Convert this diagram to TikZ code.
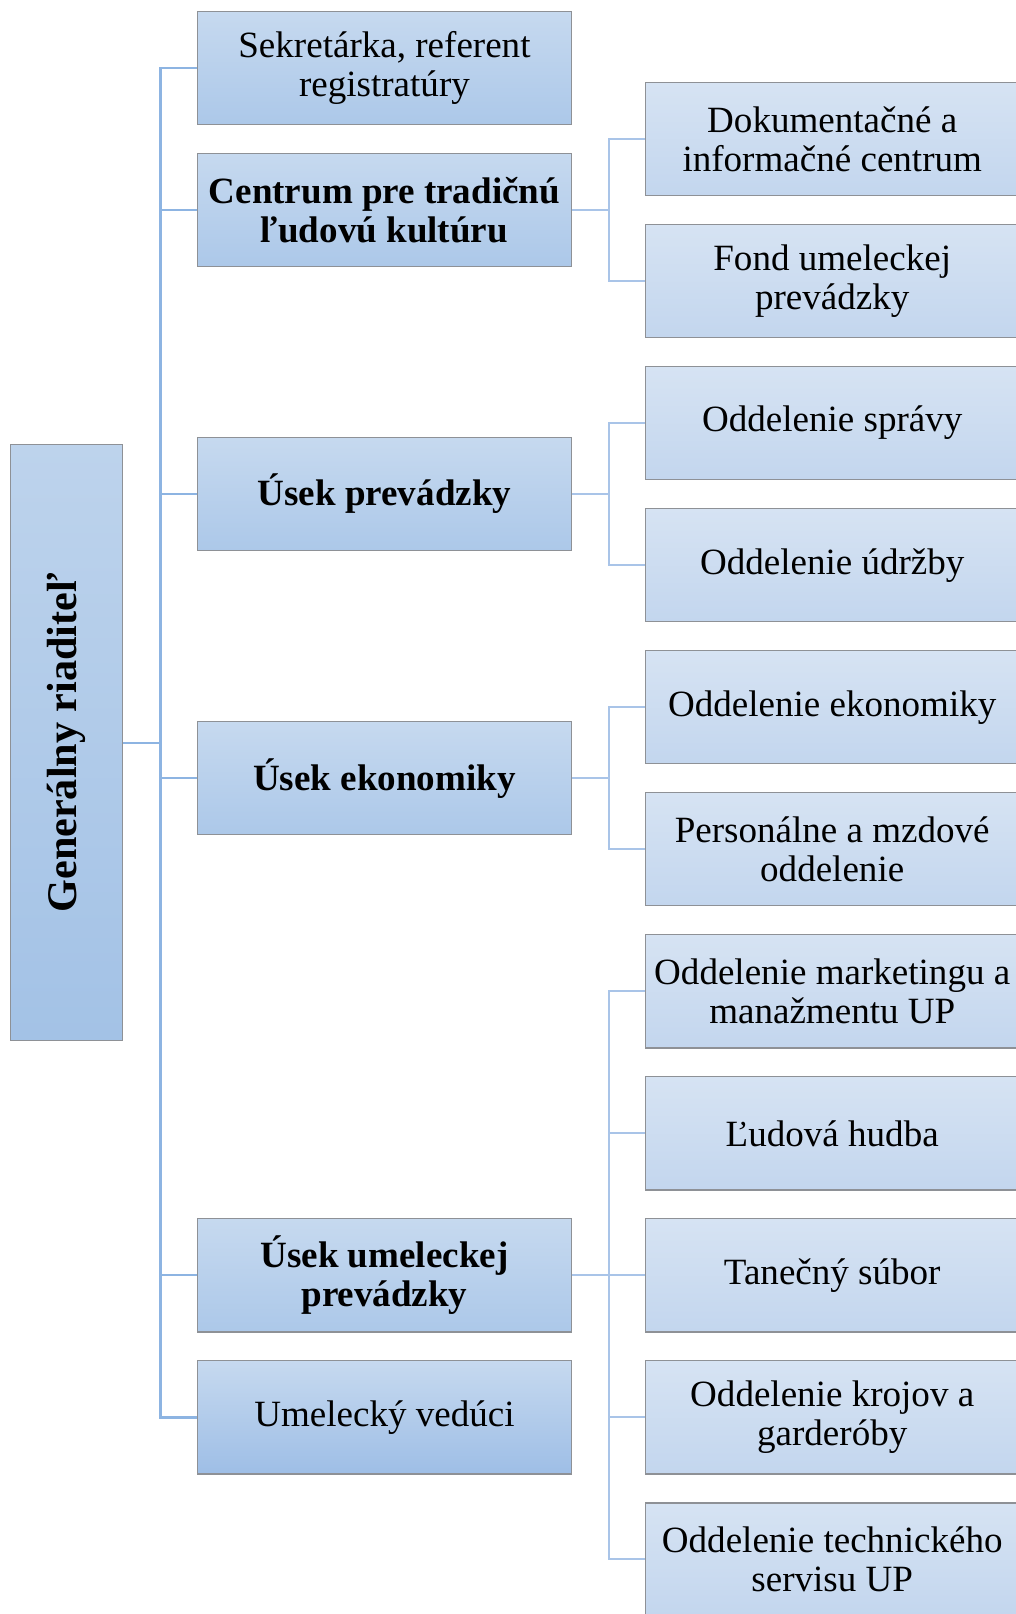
\documentclass[tikz,border=0pt]{standalone}
\usepackage{fontspec}
\setmainfont{Liberation Serif}

\definecolor{boxtop}{HTML}{C6D9EF}
\definecolor{boxbot}{HTML}{ACC8E9}
\definecolor{subtop}{HTML}{D6E3F3}
\definecolor{subbot}{HTML}{C3D6EE}
\definecolor{chieftop}{HTML}{BDD3EC}
\definecolor{chiefbot}{HTML}{A3C2E6}
\definecolor{leadbot}{HTML}{9EBEE6}
\definecolor{frame}{HTML}{8E9196}
\definecolor{linkcol}{HTML}{8DB4E2}
\definecolor{sublinkcol}{HTML}{A9C4E8}

\tikzset{
  unit/.style={draw=frame,line width=1.3pt,top color=boxtop,bottom color=boxbot,
    minimum width=363pt,minimum height=110pt,align=center,
    inner sep=0pt,font=\fontsize{36}{38}\selectfont},
  head/.style={unit,font=\fontsize{36}{38}\selectfont\bfseries},
  dept/.style={unit,top color=subtop,bottom color=subbot},
  link/.style={draw=linkcol,line width=2.2pt},
  sublink/.style={draw=sublinkcol,line width=2pt}
}

\begin{document}
\begin{tikzpicture}[x=1pt,y=-1pt]
\useasboundingbox (0,0) rectangle (987,1568);
\clip (0,0) rectangle (987,1568);
% director
\node (gr) at (64.5,721.5) [head,rotate=90,minimum width=579pt,minimum height=109pt,
  top color=chieftop,bottom color=chiefbot,font=\fontsize{41}{43}\selectfont\bfseries] {Generálny riaditeľ};
% first level
\node (sek) at (373.5,66) [unit] {Sekretárka, referent\\registratúry};
\node (ctr) at (373.5,204) [head] {Centrum pre tradičnú\\ľudovú kultúru};
\node (prev) at (373.5,480) [head] {Úsek prevádzky};
\node (eko) at (373.5,756) [head] {Úsek ekonomiky};
\node (umel) at (373.5,1239) [head] {Úsek umeleckej\\prevádzky};
\node (ved) at (373.5,1377) [unit,bottom color=leadbot] {Umelecký vedúci};
% second level
\node (dok) at (808.5,135) [dept] {Dokumentačné a\\informačné centrum};
\node (fond) at (808.5,273) [dept] {Fond umeleckej\\prevádzky};
\node (spr) at (808.5,411) [dept] {Oddelenie správy};
\node (udr) at (808.5,549) [dept] {Oddelenie údržby};
\node (oek) at (808.5,687) [dept] {Oddelenie ekonomiky};
\node (pers) at (808.5,825) [dept] {Personálne a mzdové\\oddelenie};
\node (mark) at (808.5,963) [dept] {Oddelenie marketingu a\\manažmentu UP};
\node (hud) at (808.5,1101) [dept] {Ľudová hudba};
\node (tan) at (808.5,1239) [dept] {Tanečný súbor};
\node (kroj) at (808.5,1377) [dept] {Oddelenie krojov a\\garderóby};
\node (tech) at (808.5,1515) [dept] {Oddelenie technického\\servisu UP};
% connectors
\coordinate (trunk) at (156,721.5);
\draw[link] (gr.south) -- (trunk);
\foreach \n in {sek,ctr,prev,eko,umel,ved}
  \draw[link] (trunk) |- (\n.west);
\foreach \n in {dok,fond}
  \draw[sublink] (ctr.east) -- ++(36,0) |- (\n.west);
\foreach \n in {spr,udr}
  \draw[sublink] (prev.east) -- ++(36,0) |- (\n.west);
\foreach \n in {oek,pers}
  \draw[sublink] (eko.east) -- ++(36,0) |- (\n.west);
\foreach \n in {mark,hud,tan,kroj,tech}
  \draw[sublink] (umel.east) -- ++(36,0) |- (\n.west);
\end{tikzpicture}
\end{document}
